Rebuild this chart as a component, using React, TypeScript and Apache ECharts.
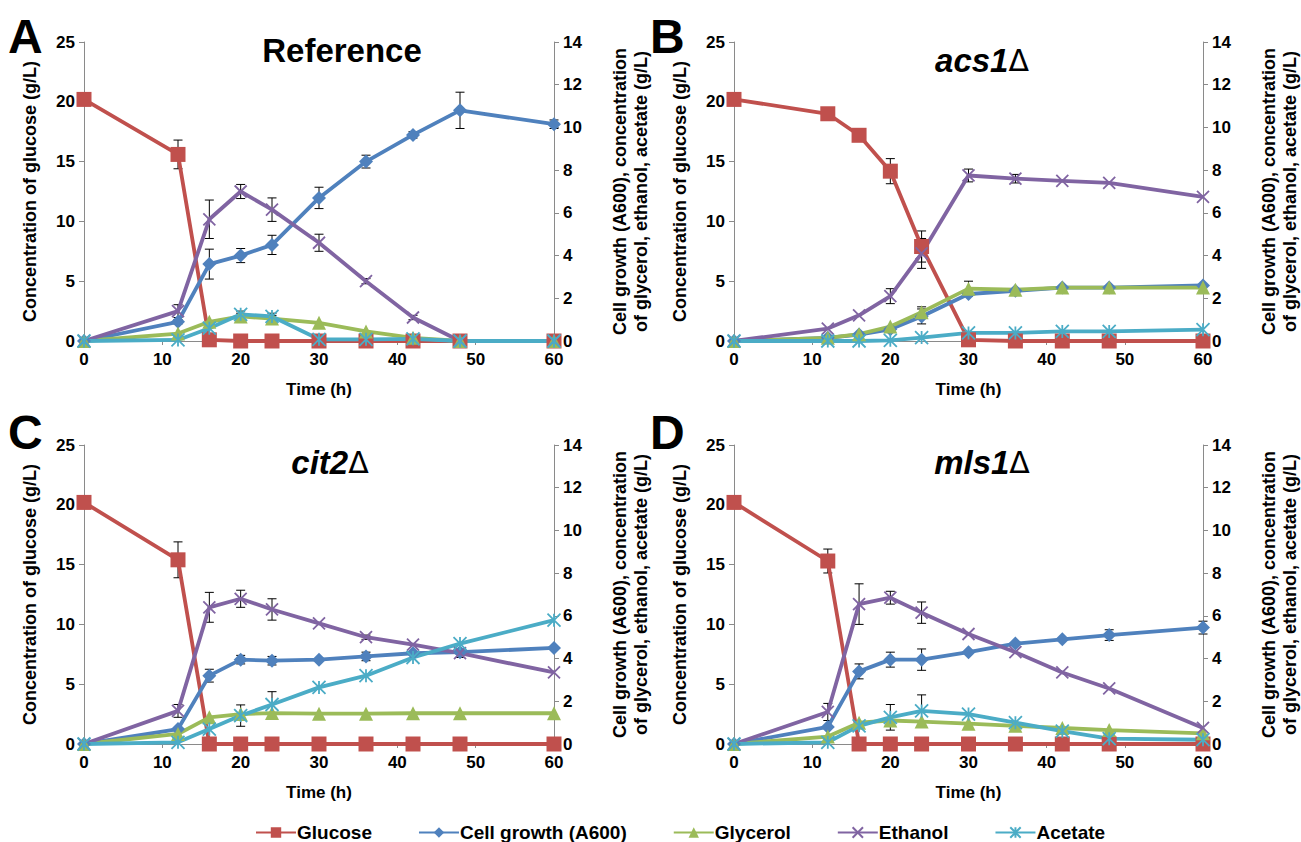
import React, { useEffect, useRef } from "react";
import * as echarts from "echarts";

const hours = [0, 12, 16, 20, 24, 30, 36, 42, 48, 60];
const seriesNames = ["Glucose", "Cell growth (A600)", "Glycerol", "Ethanol", "Acetate"];
const panelLetters = ["A", "B", "C", "D"];

// Panel A: Reference
const aGlucose = [20.2, 15.6, 0.1, 0, 0, 0, 0, 0, 0, 0];
const aGlucoseErr = [0, 1.2, 0, 0, 0, 0, 0, 0, 0, 0];
const aCell = [0, 0.9, 3.6, 4.0, 4.5, 6.7, 8.4, 9.65, 10.8, 10.15];
const aCellErr = [0, 0.1, 0.7, 0.33, 0.45, 0.5, 0.3, 0.15, 0.85, 0.2];
const aGlycerol = [0, 0.35, 0.9, 1.15, 1.05, 0.85, 0.45, 0.15, 0, 0];
const aGlycerolErr = [0, 0, 0, 0.15, 0.15, 0, 0, 0, 0, 0];
const aEthanol = [0, 1.4, 5.7, 7.0, 6.15, 4.6, 2.8, 1.1, 0, 0];
const aEthanolErr = [0, 0.3, 0.9, 0.33, 0.55, 0.4, 0.12, 0.1, 0, 0];
const aAcetate = [0, 0.05, 0.6, 1.25, 1.15, 0.08, 0.08, 0.1, 0, 0];
const aAcetateErr = [0, 0, 0, 0.15, 0.15, 0, 0, 0, 0, 0];

// Panel B: acs1Δ
const bGlucose = [20.2, 19.0, 17.2, 14.2, 7.9, 0.1, 0, 0, 0, 0];
const bGlucoseErr = [0, 0, 0, 1.05, 1.3, 0, 0, 0, 0, 0];
const bCell = [0, 0.15, 0.3, 0.55, 1.15, 2.2, 2.35, 2.5, 2.5, 2.6];
const bCellErr = [0, 0, 0, 0, 0.35, 0, 0, 0, 0, 0];
const bGlycerol = [0, 0.15, 0.32, 0.68, 1.35, 2.45, 2.4, 2.5, 2.5, 2.5];
const bGlycerolErr = [0, 0, 0, 0, 0.25, 0.35, 0, 0, 0, 0];
const bEthanol = [0, 0.58, 1.2, 2.1, 4.1, 7.75, 7.6, 7.5, 7.4, 6.75];
const bEthanolErr = [0, 0, 0, 0.35, 0.7, 0.3, 0.2, 0, 0, 0];
const bAcetate = [0, 0, 0, 0.03, 0.16, 0.38, 0.38, 0.45, 0.45, 0.53];
const bAcetateErr = [0, 0, 0, 0, 0, 0, 0, 0, 0, 0];

// Panel C: cit2Δ
const cGlucose = [20.2, 15.4, 0, 0, 0, 0, 0, 0, 0, 0];
const cGlucoseErr = [0, 1.5, 0, 0, 0, 0, 0, 0, 0, 0];
const cCell = [0, 0.7, 3.2, 3.95, 3.9, 3.95, 4.1, 4.25, 4.3, 4.5];
const cCellErr = [0, 0, 0.3, 0.2, 0.2, 0, 0.2, 0, 0, 0];
const cGlycerol = [0, 0.47, 1.25, 1.4, 1.45, 1.42, 1.42, 1.44, 1.44, 1.44];
const cGlycerolErr = [0, 0, 0, 0, 0, 0, 0, 0, 0, 0];
const cEthanol = [0, 1.55, 6.4, 6.8, 6.3, 5.65, 5.0, 4.65, 4.25, 3.35];
const cEthanolErr = [0, 0.3, 0.7, 0.4, 0.5, 0, 0.1, 0, 0.2, 0];
const cAcetate = [0, 0.08, 0.7, 1.33, 1.85, 2.65, 3.2, 4.05, 4.7, 5.8];
const cAcetateErr = [0, 0, 0, 0.5, 0.6, 0, 0, 0, 0, 0];

// Panel D: mls1Δ
const dGlucose = [20.2, 15.3, 0, 0, 0, 0, 0, 0, 0, 0];
const dGlucoseErr = [0, 1.0, 0, 0, 0, 0, 0, 0, 0, 0];
const dCell = [0, 0.8, 3.4, 3.95, 3.95, 4.3, 4.7, 4.9, 5.1, 5.45];
const dCellErr = [0, 0, 0.35, 0.35, 0.5, 0, 0, 0, 0.25, 0.3];
const dGlycerol = [0, 0.35, 1.0, 1.1, 1.05, 0.95, 0.85, 0.75, 0.65, 0.5];
const dGlycerolErr = [0, 0, 0, 0, 0, 0, 0, 0, 0, 0];
const dEthanol = [0, 1.5, 6.55, 6.85, 6.15, 5.15, 4.3, 3.35, 2.6, 0.75];
const dEthanolErr = [0, 0.4, 0.95, 0.3, 0.5, 0, 0, 0, 0, 0];
const dAcetate = [0, 0.08, 0.85, 1.25, 1.55, 1.4, 1.0, 0.6, 0.25, 0.2];
const dAcetateErr = [0, 0, 0, 0.6, 0.75, 0, 0, 0, 0, 0];

const FONT = '"Liberation Sans", Arial, sans-serif';
const COLORS = ["#C0504D", "#4F81BD", "#9BBB59", "#8064A2", "#4BACC6"];
const SYMBOLS = [
  "rect",
  "diamond",
  "triangle",
  "path://M0,0L10,10M10,0L0,10",
  "path://M0,0L10,10M10,0L0,10M5,0L5,10",
];
const SYMBOL_SIZES = [15, 14, 14, 12, 13];

const panels = [
  { vals: [aGlucose, aCell, aGlycerol, aEthanol, aAcetate], errs: [aGlucoseErr, aCellErr, aGlycerolErr, aEthanolErr, aAcetateErr] },
  { vals: [bGlucose, bCell, bGlycerol, bEthanol, bAcetate], errs: [bGlucoseErr, bCellErr, bGlycerolErr, bEthanolErr, bAcetateErr] },
  { vals: [cGlucose, cCell, cGlycerol, cEthanol, cAcetate], errs: [cGlucoseErr, cCellErr, cGlycerolErr, cEthanolErr, cAcetateErr] },
  { vals: [dGlucose, dCell, dGlycerol, dEthanol, dAcetate], errs: [dGlucoseErr, dCellErr, dGlycerolErr, dEthanolErr, dAcetateErr] },
];

const grids = [
  { left: 84, top: 42, width: 470, height: 299 },
  { left: 734, top: 42, width: 470, height: 299 },
  { left: 84, top: 445, width: 470, height: 299 },
  { left: 734, top: 445, width: 470, height: 299 },
];

const titlePos = [
  { x: 342, y: 50 },
  { x: 982, y: 60 },
  { x: 330, y: 462 },
  { x: 982, y: 462 },
];
const titleTexts = ["{b|Reference}", "{i|acs1}{n|Δ}", "{i|cit2}{n|Δ}", "{i|mls1}{n|Δ}"];
const letterPos = [
  { x: 8, y: 12 },
  { x: 650, y: 12 },
  { x: 8, y: 408 },
  { x: 650, y: 408 },
];

const GRAY = "#8a8a8a";

function errorRender(params: any, api: any) {
  const x = api.value(0);
  const lo = api.value(1);
  const hi = api.value(2);
  const p1 = api.coord([x, hi]);
  const p2 = api.coord([x, lo]);
  const w = 4.5;
  const st = { stroke: "#000", lineWidth: 1 };
  return {
    type: "group",
    children: [
      { type: "line", shape: { x1: p1[0], y1: p1[1], x2: p2[0], y2: p2[1] }, style: st },
      { type: "line", shape: { x1: p1[0] - w, y1: p1[1], x2: p1[0] + w, y2: p1[1] }, style: st },
      { type: "line", shape: { x1: p2[0] - w, y1: p2[1], x2: p2[0] + w, y2: p2[1] }, style: st },
    ],
  };
}

function buildOption() {
  const xAxis: any[] = [];
  const yAxis: any[] = [];
  const series: any[] = [];
  const graphic: any[] = [];
  const labelStyle = { color: "#000", fontFamily: FONT, fontWeight: "bold", fontSize: 17 };
  const nameStyle = { color: "#000", fontFamily: FONT, fontWeight: "bold", fontSize: 18, lineHeight: 21 };
  const xNameStyle = { color: "#000", fontFamily: FONT, fontWeight: "bold", fontSize: 17 };

  grids.forEach((g, i) => {
    xAxis.push({
      gridIndex: i,
      type: "value",
      min: 0,
      max: 60,
      interval: 10,
      name: "Time (h)",
      nameLocation: "middle",
      nameGap: 40,
      nameTextStyle: xNameStyle,
      axisLine: { show: true, lineStyle: { color: GRAY, width: 1 } },
      axisTick: { show: true, length: 4, lineStyle: { color: GRAY } },
      axisLabel: { ...labelStyle, margin: 10 },
      splitLine: { show: false },
    });
    yAxis.push({
      gridIndex: i,
      type: "value",
      position: "left",
      min: 0,
      max: 25,
      interval: 5,
      name: "Concentration of glucose (g/L)",
      nameLocation: "middle",
      nameRotate: 90,
      nameGap: 44,
      nameTextStyle: nameStyle,
      axisLine: { show: true, lineStyle: { color: GRAY, width: 1 } },
      axisTick: { show: true, length: 5, lineStyle: { color: GRAY } },
      axisLabel: { ...labelStyle, margin: 9 },
      splitLine: { show: false },
    });
    yAxis.push({
      gridIndex: i,
      type: "value",
      position: "right",
      min: 0,
      max: 14,
      interval: 2,
      name: "Cell growth (A600), concentration\nof glycerol, ethanol, acetate (g/L)",
      nameLocation: "middle",
      nameRotate: 90,
      nameGap: 55,
      nameTextStyle: nameStyle,
      axisLine: { show: true, lineStyle: { color: GRAY, width: 1 } },
      axisTick: { show: true, length: 5, lineStyle: { color: GRAY } },
      axisLabel: { ...labelStyle, margin: 9 },
      splitLine: { show: false },
    });

    const p = panels[i];
    seriesNames.forEach((name, s) => {
      const yIdx = s === 0 ? 2 * i : 2 * i + 1;
      const errData = hours
        .map((h, k) => [h, p.vals[s][k] - p.errs[s][k], p.vals[s][k] + p.errs[s][k], p.errs[s][k]])
        .filter((d) => d[3] > 0)
        .map((d) => [d[0], d[1], d[2]]);
      if (errData.length) {
        series.push({
          type: "custom",
          xAxisIndex: i,
          yAxisIndex: yIdx,
          renderItem: errorRender,
          data: errData,
          z: 1,
          silent: true,
        });
      }
      const isPath = s >= 3;
      series.push({
        name,
        type: "line",
        xAxisIndex: i,
        yAxisIndex: yIdx,
        data: hours.map((h, k) => [h, p.vals[s][k]]),
        symbol: SYMBOLS[s],
        symbolSize: SYMBOL_SIZES[s],
        showAllSymbol: true,
        lineStyle: { color: COLORS[s], width: 3.8 },
        itemStyle: isPath
          ? { color: COLORS[s], borderColor: COLORS[s], borderWidth: 1.8 }
          : { color: COLORS[s], borderColor: COLORS[s], borderWidth: 0 },
        z: 2,
      });
    });

    graphic.push({
      type: "text",
      x: titlePos[i].x,
      y: titlePos[i].y,
      style: {
        text: titleTexts[i],
        textAlign: "center",
        textVerticalAlign: "middle",
        fill: "#000",
        rich: {
          b: { fontFamily: FONT, fontWeight: "bold", fontSize: 33, fill: "#000" },
          i: { fontFamily: FONT, fontWeight: "bold", fontStyle: "italic", fontSize: 33, fill: "#000" },
          n: { fontFamily: '"DejaVu Sans", sans-serif', fontWeight: "normal", fontSize: 30, fill: "#000" },
        },
      },
    });
    graphic.push({
      type: "text",
      x: letterPos[i].x,
      y: letterPos[i].y,
      style: {
        text: panelLetters[i],
        fill: "#000",
        font: `bold 48px ${FONT}`,
        textAlign: "left",
        textVerticalAlign: "top",
      },
    });
  });

  return {
    animation: false,
    backgroundColor: "#fff",
    grid: grids.map((g) => ({ ...g, containLabel: false })),
    xAxis,
    yAxis,
    series,
    graphic,
    legend: {
      data: seriesNames,
      top: 818,
      left: 250,
      itemWidth: 40,
      itemHeight: 13,
      itemGap: 46,
      textStyle: { color: "#000", fontFamily: FONT, fontWeight: "bold", fontSize: 19, padding: [0, 0, 0, -4] },
    },
  };
}

export default function App() {
  const ref = useRef<HTMLDivElement>(null);
  useEffect(() => {
    if (!ref.current) return;
    const chart = echarts.init(ref.current, null, { renderer: "svg" });
    chart.setOption(buildOption() as any);
    return () => chart.dispose();
  }, []);
  return (
    <div
      ref={ref}
      style={{ position: "absolute", left: 0, top: 0, width: 1301, height: 842, background: "#fff" }}
    />
  );
}
